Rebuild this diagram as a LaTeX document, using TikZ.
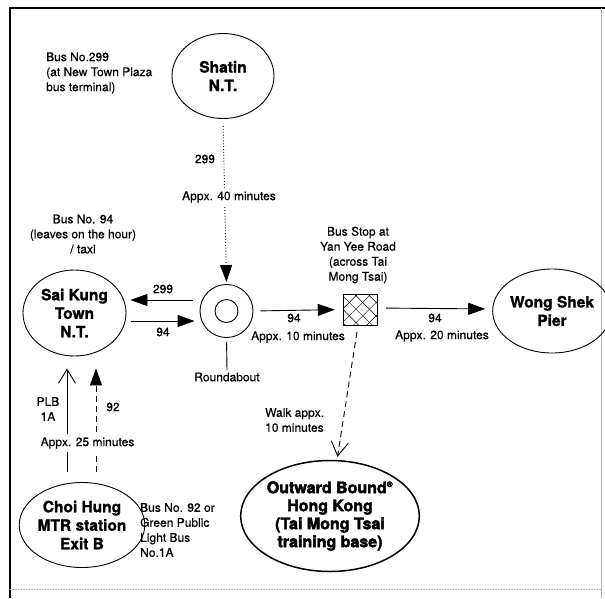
\documentclass[tikz,border=0pt]{standalone}
\usepackage{fontspec}
\setmainfont{TeX Gyre Heros}[UprightFeatures={FakeBold=0.4}, BoldFeatures={FakeBold=1.4}]
\newfontfamily\heavyfont{TeX Gyre Heros}[BoldFeatures={FakeBold=2.6}]
\usetikzlibrary{arrows.meta}
\usetikzlibrary{shapes.geometric}
\usetikzlibrary{patterns,patterns.meta}
\tikzstyle{place}=[draw, ellipse, line width=0.9pt, inner sep=0, align=center,
                   font=\bfseries\fontsize{15.5}{18.5}\selectfont]
\tikzstyle{bigplace}=[place, line width=1.5pt, font=\heavyfont\bfseries\fontsize{16}{18}\selectfont]
\tikzstyle{note}=[inner sep=0, font=\fontsize{12}{15}\selectfont]
\tikzstyle{masknote}=[note, fill=white, inner sep=3pt]
\tikzstyle{stopbox}=[draw, line width=0.9pt, inner sep=0, minimum width=34pt, minimum height=31pt,
                     pattern={Lines[angle=45, distance=9.5pt, line width=0.45pt]},
                     postaction={pattern={Lines[angle=-45, distance=9.5pt, line width=0.45pt]}}]
\tikzstyle{bus}=[line width=0.9pt, -{Triangle[length=17pt, width=12pt]}]
\tikzstyle{walk}=[line width=0.9pt, -{Straight Barb[length=14pt, width=17pt]}]
\tikzstyle{routemap}=[x=1pt, y=-1pt]

\begin{document}
\begin{tikzpicture}[routemap]
        \useasboundingbox (0, 0) rectangle (605, 598);
        \draw[line width=2.4pt] (10, 598) -- (10, 8) -- (605, 8);
        \draw[gray!60, line width=0.6pt] (601, 8) -- (601, 598);
        \draw[gray!60, line width=0.6pt, densely dotted] (10, 589) -- (601, 589);
        \node[place, minimum width=102pt, minimum height=85pt] (Shatin) at (223, 76) {Shatin\\N.T.};
        \node[place, minimum width=103pt, minimum height=86pt] (SaiKung) at (74.5, 313) {Sai Kung\\Town\\N.T.};
        \node[place, minimum width=101pt, minimum height=84pt] (WongShek) at (552, 311) {Wong Shek\\Pier};
        \node[place, minimum width=100pt, minimum height=85pt] (ChoiHung) at (82, 525) {Choi Hung\\MTR station\\Exit B};
        \node[bigplace, minimum width=175pt, minimum height=111pt] (Outward) at (330, 516)
            {Outward Bound\textsuperscript{\footnotesize ®}\\Hong Kong\\(Tai Mong Tsai\\training base)};
        \node[circle, draw, line width=0.9pt, minimum size=53pt, inner sep=0] (Round) at (226.5, 311) {};
        \node[circle, draw, line width=0.9pt, minimum size=23pt, inner sep=0] (RoundIn) at (226.5, 311) {};
        \node[stopbox] (BusStop) at (360, 309.5) {};
        \node[note, align=left, anchor=west] (ShatinNote) at (46, 73) {Bus No.299\\(at New Town Plaza\\bus terminal)};
        \node[note, align=center] (SaiKungNote) at (83, 234) {Bus No. 94\\(leaves on the hour)\\/ taxi};
        \node[note, align=center] (BusStopNote) at (358, 255) {Bus Stop at\\Yan Yee Road\\(across Tai\\Mong Tsai)};
        \node[note, align=left, anchor=west] (ChoiHungNote) at (140, 530) {Bus No. 92 or\\Green Public\\Light Bus\\No.1A};
        \node[note, inner sep=2pt] (RoundLabel) at (227, 377) {Roundabout};
        \draw[line width=0.9pt, dotted, -{Triangle[length=17pt, width=12pt]}, shorten <=7pt, shorten >=2pt]
            (Shatin.south) -- (Round.north);
        \node[note] (L299a) at (205, 159) {299};
        \node[masknote] (L40) at (229, 197) {Appx. 40 minutes};
        \draw[bus, shorten <=7pt, shorten >=4pt] ([yshift=11pt]Round.west) -- ([yshift=13pt]SaiKung.east);
        \draw[bus, shorten <=5pt, shorten >=5pt] ([yshift=-8pt]SaiKung.east) -- ([yshift=-10pt]Round.west);
        \node[note] (L299b) at (163, 289) {299};
        \node[note] (L94a) at (163, 332) {94};
        \draw[line width=0.9pt, shorten <=4pt] (Round.south) -- (RoundLabel.north);
        \draw[bus, shorten <=7pt, shorten >=8pt] (Round.east) -- (BusStop.west);
        \node[note] (L94b) at (294, 318) {94};
        \node[note] (L10) at (298, 337) {Appx. 10 minutes};
        \draw[bus, shorten <=9pt, shorten >=7pt] ([yshift=1.5pt]BusStop.east) -- ([yshift=2pt]WongShek.west);
        \node[note] (L94c) at (435, 318) {94};
        \node[note] (L20) at (442, 336) {Appx. 20 minutes};
        \draw[walk, dash pattern=on 6pt off 4pt, shorten <=7pt, shorten >=3pt]
            ([xshift=-2pt]BusStop.south) -- ([xshift=7pt]Outward.north);
        \node[note, align=left, anchor=west] (LWalk) at (265, 420) {Walk appx.\\10 minutes};
        \draw[walk, shorten <=10pt, shorten >=12pt] ([xshift=-15pt]ChoiHung.north) -- ([xshift=-7.5pt]SaiKung.south);
        \draw[bus, dash pattern=on 6pt off 4pt, shorten <=10pt, shorten >=12pt]
            ([xshift=14pt]ChoiHung.north) -- ([xshift=21.5pt]SaiKung.south);
        \node[note, align=center] (LPLB) at (48, 409) {PLB\\1A};
        \node[note] (L92) at (113, 407) {92};
        \node[masknote] (L25) at (87.5, 443) {Appx. 25 minutes};
    \end{tikzpicture}
\end{document}
